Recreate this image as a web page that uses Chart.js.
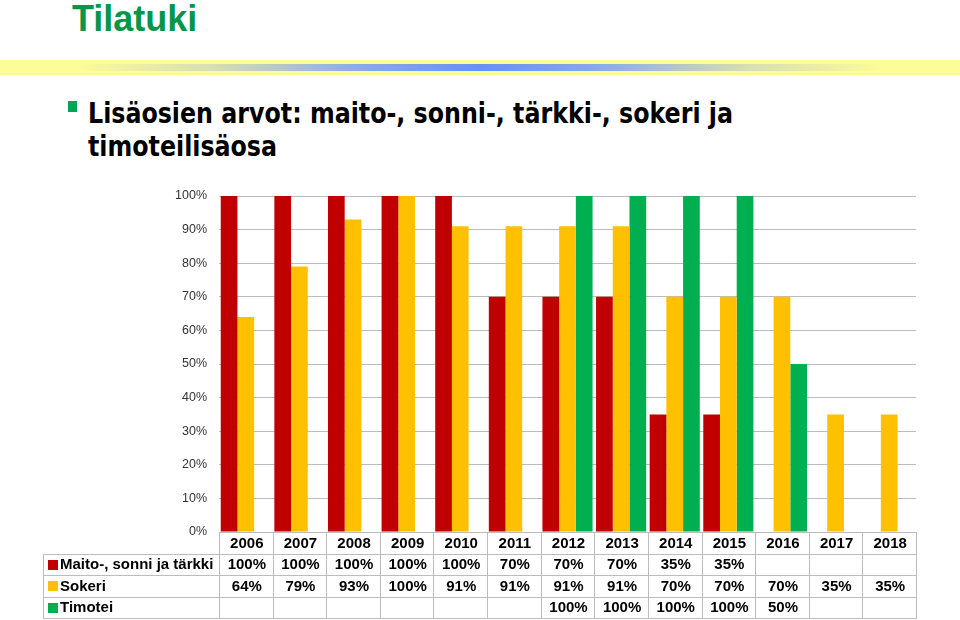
<!DOCTYPE html>
<html>
<head>
<meta charset="utf-8">
<script src="https://cdn.jsdelivr.net/npm/chart.js@4"></script>
<style>
  html,body{margin:0;padding:0;background:#fff;}
  #page{position:relative;width:960px;height:620px;overflow:hidden;background:#fff;}
  #title{position:absolute;left:72px;top:-2px;font:bold 36px "Liberation Sans",Arial,sans-serif;color:#05964a;}
  #band{position:absolute;left:0;top:60px;width:960px;height:15px;background:#fcfc98;}
  #bandc{position:absolute;left:0;top:64px;width:960px;height:7px;
    background:linear-gradient(to right,rgba(252,252,152,0) 8%,rgba(200,210,190,0.7) 22%,rgba(130,165,235,0.95) 38%,rgba(100,145,245,1) 50%,rgba(130,165,235,0.95) 62%,rgba(200,210,190,0.7) 78%,rgba(252,252,152,0) 92%);}
  #bullet{position:absolute;left:68px;top:101px;width:9px;height:11px;background:#00a651;}
  #sub{position:absolute;left:88px;top:97px;font:bold 29px "DejaVu Sans Condensed","DejaVu Sans",sans-serif;line-height:33px;color:#000;transform:scaleX(0.91);transform-origin:0 0;white-space:nowrap;}
  #c{position:absolute;left:0;top:0;}
</style>
</head>
<body>
<div id="page">
  <div id="title">Tilatuki</div>
  <div id="band"></div>
  <div id="bandc"></div>
  <div id="bullet"></div>
  <div id="sub">Lisäosien arvot: maito-, sonni-, tärkki-, sokeri ja<br>timoteilisäosa</div>
  <canvas id="c" width="960" height="620"></canvas>
</div>
<script>
const years = ['2006','2007','2008','2009','2010','2011','2012','2013','2014','2015','2016','2017','2018'];
const maito = [100,100,100,100,100,70,70,70,35,35,null,null,null];
const sokeri = [64,79,93,100,91,91,91,91,70,70,70,35,35];
const timotei = [null,null,null,null,null,null,100,100,100,100,50,null,null];
const seriesNames = ['Maito-, sonni ja tärkki','Sokeri','Timotei'];
const seriesColors = ['#c00000','#ffc000','#00b050'];
const seriesValues = [maito, sokeri, timotei];

const tablePlugin = {
  id: 'dataTable',
  afterDraw(chart) {
    const {ctx, chartArea} = chart;
    const xs = chart.scales.x;
    const n = years.length;
    const cw = chartArea.width / n;
    const top = chartArea.bottom;
    const rh = 21.5;
    const labelLeft = 43;
    const right = chartArea.right;
    ctx.save();
    ctx.strokeStyle = '#bcbcbc';
    ctx.lineWidth = 1;
    ctx.beginPath();
    for (let i = 0; i <= n; i++) {
      const xx = i < n ? xs.getPixelForValue(i) - cw / 2 : xs.getPixelForValue(n - 1) + cw / 2;
      const px = Math.round(xx) + 0.5;
      ctx.moveTo(px, top);
      ctx.lineTo(px, Math.round(top + 4 * rh));
    }
    ctx.moveTo(labelLeft + 0.5, Math.round(top + rh));
    ctx.lineTo(labelLeft + 0.5, Math.round(top + 4 * rh));
    for (let r = 1; r <= 4; r++) {
      const py = Math.round(top + r * rh) + 0.5;
      ctx.moveTo(labelLeft, py);
      ctx.lineTo(Math.round(right) + 1, py);
    }
    ctx.stroke();

    ctx.fillStyle = '#000';
    ctx.font = 'bold 15px "Liberation Sans", Arial, sans-serif';
    ctx.textBaseline = 'middle';
    ctx.textAlign = 'center';
    for (let i = 0; i < n; i++) {
      const cx = xs.getPixelForValue(i);
      ctx.fillText(years[i], cx + 1, top + rh / 2 + 1);
      for (let s = 0; s < seriesValues.length; s++) {
        const v = seriesValues[s][i];
        if (v !== null && v !== undefined) {
          ctx.fillText(v + '%', cx + 1, top + rh * (s + 1) + rh / 2 + 1);
        }
      }
    }
    ctx.textAlign = 'left';
    for (let s = 0; s < seriesNames.length; s++) {
      const cy = top + rh * (s + 1) + rh / 2;
      ctx.fillStyle = seriesColors[s];
      ctx.fillRect(labelLeft + 5, Math.round(cy - 4.5), 10, 10);
      ctx.fillStyle = '#000';
      ctx.fillText(seriesNames[s], labelLeft + 17, cy + 1);
    }
    ctx.restore();
  }
};

new Chart(document.getElementById('c'), {
  type: 'bar',
  data: {
    labels: years,
    datasets: seriesNames.map((name, s) => ({
      label: name,
      data: seriesValues[s],
      backgroundColor: seriesColors[s],
      borderWidth: 0,
      barPercentage: 1,
      categoryPercentage: 0.935
    }))
  },
  options: {
    responsive: false,
    animation: false,
    devicePixelRatio: 1,
    layout: { padding: { left: 159, right: 44, top: 196, bottom: 88 } },
    plugins: { legend: { display: false }, tooltip: { enabled: false } },
    scales: {
      x: { display: false, offset: true },
      y: {
        min: 0, max: 100,
        afterFit(scale) { scale.width = 60; },
        border: { display: false },
        grid: { color: '#bcbcbc', drawTicks: false, lineWidth: 1 },
        ticks: {
          stepSize: 10,
          padding: 12,
          color: '#333',
          font: { family: '"Liberation Sans", Arial, sans-serif', size: 12.5 },
          callback: v => v + '%'
        }
      }
    }
  },
  plugins: [tablePlugin]
});
</script>
</body>
</html>
